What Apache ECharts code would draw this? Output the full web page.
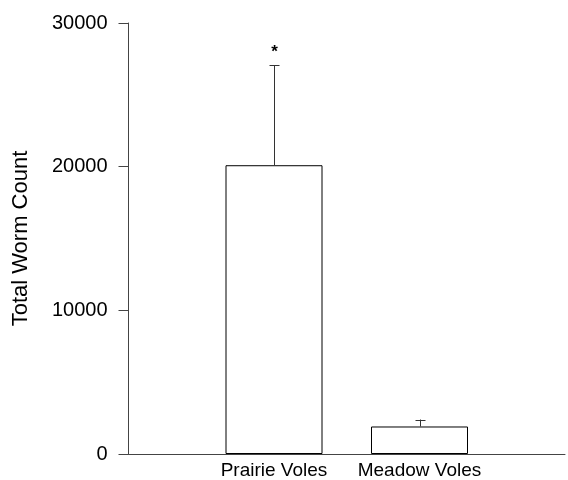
<!DOCTYPE html>
<html>
<head>
<meta charset="utf-8">
<script src="https://cdn.jsdelivr.net/npm/echarts@6/dist/echarts.min.js"></script>
<style>html,body{margin:0;padding:0;background:#fff;}#chart{width:568px;height:480px;}</style>
</head>
<body>
<div id="chart"></div>
<script>
var groups = ['Prairie Voles', 'Meadow Voles'];
var means = [20100, 1915];
var errorTops = [27050, 2400];
var significance = ['*', ''];
var yTicks = [0, 10000, 20000, 30000];
var yTitle = 'Total Worm Count';

// category axis with empty end slots, so bars sit on ticks 1 and 2
var categories = [''].concat(groups).concat(['']);
var barData = ['-'].concat(means).concat(['-']);
var errData = groups.map(function (g, i) { return [i + 1, means[i], errorTops[i]]; });

var chart = echarts.init(document.getElementById('chart'), null, {renderer: 'canvas'});
chart.setOption({
  animation: false,
  backgroundColor: '#fff',
  grid: {left: 128.5, width: 440, top: 23, bottom: 23, containLabel: false},
  xAxis: {
    type: 'category',
    data: categories,
    boundaryGap: false,
    axisLine: {show: true, lineStyle: {color: '#444', width: 1}},
    axisTick: {show: false},
    axisLabel: {color: '#000', fontSize: 19, fontFamily: 'Liberation Sans, Arial, sans-serif', margin: 7, interval: 0}
  },
  yAxis: {
    type: 'value',
    min: yTicks[0],
    max: yTicks[yTicks.length - 1],
    interval: yTicks[1] - yTicks[0],
    splitLine: {show: false},
    axisLine: {show: true, lineStyle: {color: '#444', width: 1}},
    axisTick: {show: true, length: 10, lineStyle: {color: '#444'}},
    axisLabel: {color: '#000', fontSize: 20, fontFamily: 'Liberation Sans, Arial, sans-serif', margin: 21,
      formatter: function (v) { return String(v); }},
    name: yTitle,
    nameLocation: 'middle',
    nameGap: 97,
    nameRotate: 90,
    nameTextStyle: {color: '#000', fontSize: 22, fontFamily: 'Liberation Sans, Arial, sans-serif'}
  },
  series: [
    {
      type: 'bar',
      data: barData,
      barWidth: 97,
      itemStyle: {color: '#fff', borderColor: '#000', borderWidth: 1},
      z: 2
    },
    {
      type: 'custom',
      data: errData,
      z: 3,
      renderItem: function (params, api) {
        var x = api.value(0);
        var base = api.coord([x, api.value(1)]);
        var top = api.coord([x, api.value(2)]);
        var cx = Math.round(base[0]) + 0.5;
        var children = [
          {type: 'line', shape: {x1: cx, y1: base[1], x2: cx, y2: top[1]}, style: {stroke: '#333', lineWidth: 1}},
          {type: 'line', shape: {x1: cx - 5, y1: Math.round(top[1]) + 0.5, x2: cx + 5, y2: Math.round(top[1]) + 0.5}, style: {stroke: '#333', lineWidth: 1}}
        ];
        var s = significance[params.dataIndex];
        if (s) {
          children.push({type: 'text', x: cx, y: top[1] - 5, style: {text: s, fill: '#000', font: 'bold 17px Liberation Sans, Arial, sans-serif', align: 'center', verticalAlign: 'bottom'}});
        }
        return {type: 'group', children: children};
      }
    }
  ]
});
</script>
</body>
</html>
